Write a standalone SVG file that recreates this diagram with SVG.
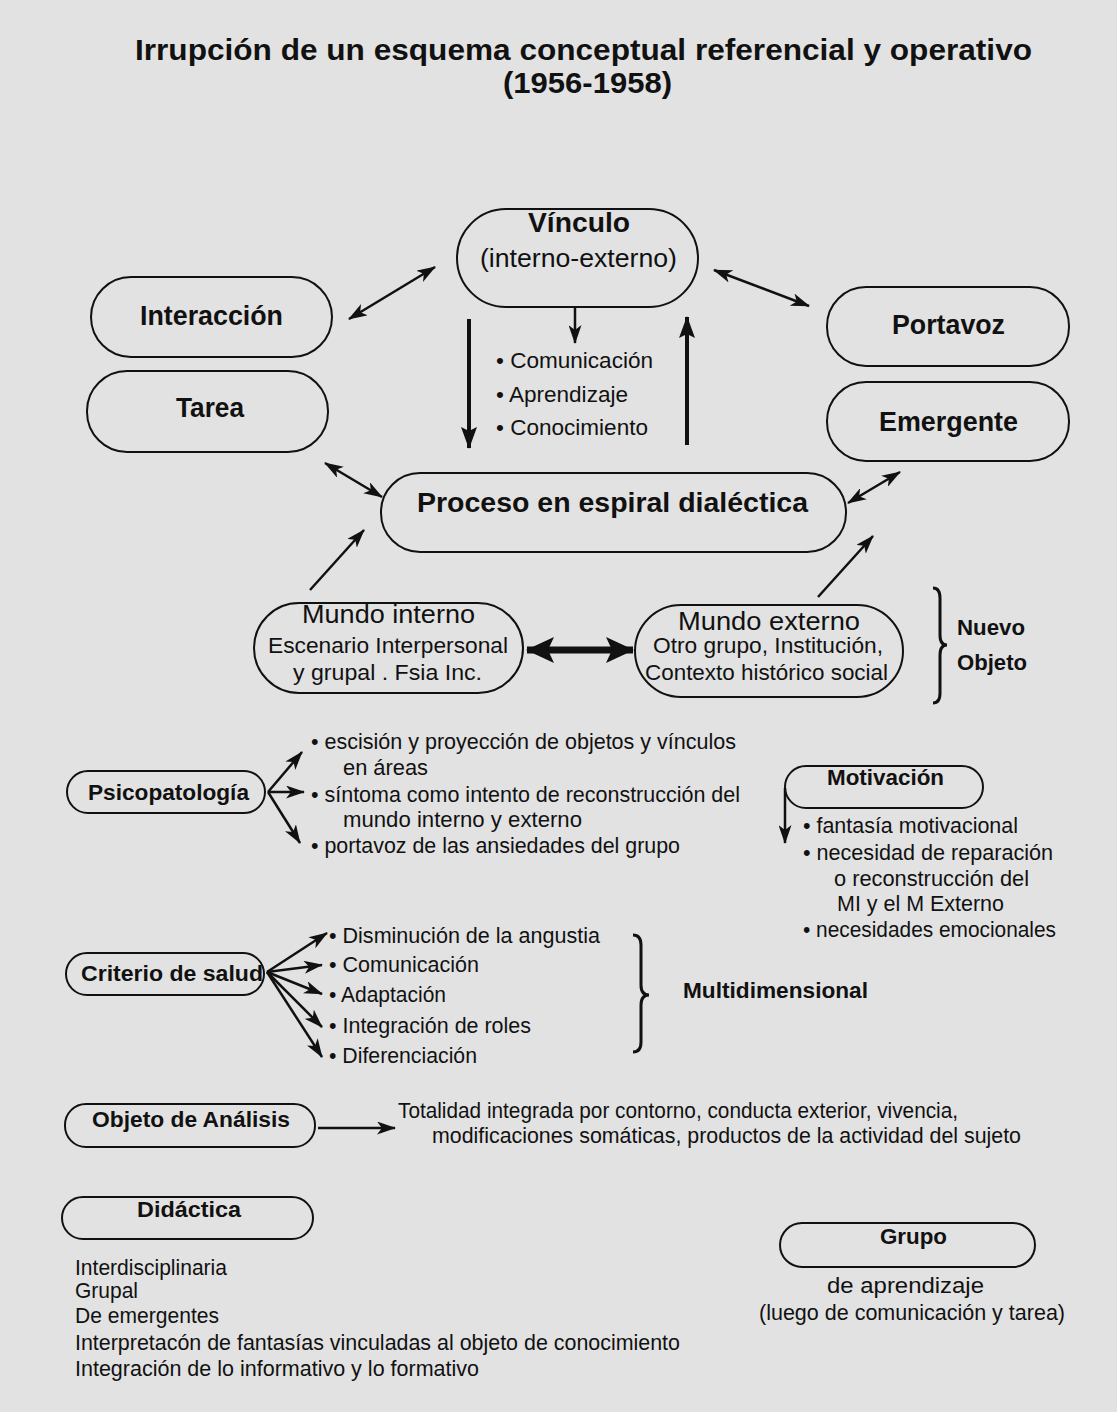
<svg xmlns="http://www.w3.org/2000/svg" width="1117" height="1412" viewBox="0 0 1117 1412">
<style>
.box{fill:none;stroke:#111;stroke-width:2}
.b{font-family:"Liberation Sans",Arial,sans-serif;font-weight:bold;fill:#111}
.t{font-family:"Liberation Sans",Arial,sans-serif;fill:#111}
.c{fill:none;stroke:#111;stroke-width:2.5}
.ck{fill:none;stroke:#111;stroke-width:4}
.br{fill:none;stroke:#111;stroke-width:3}
</style>
<defs>
<marker id="ah" markerUnits="userSpaceOnUse" markerWidth="19" markerHeight="13" refX="18" refY="6.5" orient="auto-start-reverse" viewBox="0 0 19 13">
<path d="M0,0 L19,6.5 L0,13 L5,6.5 z" fill="#111"/>
</marker>
<marker id="ahk" markerUnits="userSpaceOnUse" markerWidth="22" markerHeight="16" refX="21" refY="8" orient="auto-start-reverse" viewBox="0 0 22 16">
<path d="M0,0 L22,8 L0,16 L4,8 z" fill="#111"/>
</marker>
<marker id="ahb" markerUnits="userSpaceOnUse" markerWidth="28" markerHeight="26" refX="27" refY="13" orient="auto-start-reverse" viewBox="0 0 28 26">
<path d="M0,0 L28,13 L0,26 L6,13 z" fill="#111"/>
</marker>
</defs>
<rect x="0" y="0" width="1117" height="1412" fill="#e2e2e2"/>

<g id="title">
<text class="b" x="135" y="60" font-size="29" textLength="897" lengthAdjust="spacingAndGlyphs">Irrupción de un esquema conceptual referencial y operativo</text>
<text class="b" x="503" y="93" font-size="29" textLength="169" lengthAdjust="spacingAndGlyphs">(1956-1958)</text>
</g>

<g id="connectors">
<line class="c" x1="349" y1="319" x2="435" y2="267" marker-start="url(#ah)" marker-end="url(#ah)"/>
<line class="c" x1="714" y1="270" x2="809" y2="306" marker-start="url(#ah)" marker-end="url(#ah)"/>
<line class="c" x1="575" y1="308" x2="575" y2="343" marker-end="url(#ah)"/>
<line class="ck" x1="469" y1="319" x2="469" y2="448" marker-end="url(#ahk)"/>
<line class="ck" x1="687" y1="445" x2="687" y2="317" marker-end="url(#ahk)"/>
<line class="c" x1="325" y1="463" x2="382" y2="497" marker-start="url(#ah)" marker-end="url(#ah)"/>
<line class="c" x1="848" y1="503" x2="900" y2="472" marker-start="url(#ah)" marker-end="url(#ah)"/>
<line class="c" x1="310" y1="590" x2="364" y2="530" marker-end="url(#ah)"/>
<line class="c" x1="818" y1="597" x2="873" y2="536" marker-end="url(#ah)"/>
<line x1="527" y1="650" x2="633" y2="650" stroke="#111" stroke-width="7" marker-start="url(#ahb)" marker-end="url(#ahb)"/>
<line class="c" x1="268" y1="792" x2="302" y2="752" marker-end="url(#ah)"/>
<line class="c" x1="268" y1="792" x2="304" y2="792" marker-end="url(#ah)"/>
<line class="c" x1="268" y1="792" x2="300" y2="843" marker-end="url(#ah)"/>
<line class="c" x1="785" y1="788" x2="785" y2="843" marker-end="url(#ah)"/>
<line class="c" x1="267" y1="972" x2="327" y2="933" marker-end="url(#ah)"/>
<line class="c" x1="267" y1="972" x2="322" y2="965" marker-end="url(#ah)"/>
<line class="c" x1="267" y1="972" x2="322" y2="994" marker-end="url(#ah)"/>
<line class="c" x1="267" y1="972" x2="322" y2="1027" marker-end="url(#ah)"/>
<line class="c" x1="267" y1="972" x2="322" y2="1057" marker-end="url(#ah)"/>
<line class="c" x1="318" y1="1128" x2="395" y2="1128" marker-end="url(#ah)"/>
</g>

<g id="vinculo">
<rect class="box" x="457" y="209" width="241" height="98" rx="49"/>
<text class="b" x="528" y="232" font-size="27" textLength="102" lengthAdjust="spacingAndGlyphs">Vínculo</text>
<text class="t" x="480" y="267" font-size="25" textLength="197" lengthAdjust="spacingAndGlyphs">(interno-externo)</text>
</g>

<g id="vinculo-items">
<text class="t" x="496" y="368" font-size="22" textLength="157" lengthAdjust="spacingAndGlyphs">• Comunicación</text>
<text class="t" x="496" y="402" font-size="22" textLength="132" lengthAdjust="spacingAndGlyphs">• Aprendizaje</text>
<text class="t" x="496" y="435" font-size="22" textLength="152" lengthAdjust="spacingAndGlyphs">• Conocimiento</text>
</g>

<g id="interaccion">
<rect class="box" x="91" y="277" width="241" height="80" rx="40"/>
<text class="b" x="140" y="325" font-size="27" textLength="143" lengthAdjust="spacingAndGlyphs">Interacción</text>
</g>

<g id="tarea">
<rect class="box" x="87" y="371" width="241" height="81" rx="40"/>
<text class="b" x="176" y="417" font-size="27" textLength="68" lengthAdjust="spacingAndGlyphs">Tarea</text>
</g>

<g id="portavoz">
<rect class="box" x="827" y="287" width="242" height="79" rx="39"/>
<text class="b" x="892" y="334" font-size="27" textLength="113" lengthAdjust="spacingAndGlyphs">Portavoz</text>
</g>

<g id="emergente">
<rect class="box" x="827" y="382" width="242" height="79" rx="39"/>
<text class="b" x="879" y="431" font-size="27" textLength="139" lengthAdjust="spacingAndGlyphs">Emergente</text>
</g>

<g id="proceso">
<rect class="box" x="381" y="473" width="465" height="79" rx="39"/>
<text class="b" x="417" y="512" font-size="27" textLength="391" lengthAdjust="spacingAndGlyphs">Proceso en espiral dialéctica</text>
</g>

<g id="mundo-interno">
<rect class="box" x="254" y="603" width="269" height="90" rx="45"/>
<text class="t" x="302" y="623" font-size="25" textLength="173" lengthAdjust="spacingAndGlyphs">Mundo interno</text>
<text class="t" x="268" y="653" font-size="22" textLength="240" lengthAdjust="spacingAndGlyphs">Escenario Interpersonal</text>
<text class="t" x="293" y="680" font-size="22" textLength="189" lengthAdjust="spacingAndGlyphs">y grupal . Fsia Inc.</text>
</g>

<g id="mundo-externo">
<rect class="box" x="635" y="605" width="268" height="92" rx="46"/>
<text class="t" x="678" y="630" font-size="25" textLength="182" lengthAdjust="spacingAndGlyphs">Mundo externo</text>
<text class="t" x="653" y="653" font-size="22" textLength="230" lengthAdjust="spacingAndGlyphs">Otro grupo, Institución,</text>
<text class="t" x="645" y="680" font-size="22" textLength="243" lengthAdjust="spacingAndGlyphs">Contexto histórico social</text>
</g>

<g id="nuevo-objeto">
<path class="br" d="M933,588 Q940,588 940,598 L940,635 Q940,645 947,645 Q940,645 940,655 L940,693 Q940,703 933,703"/>
<text class="b" x="957" y="635" font-size="22" textLength="68" lengthAdjust="spacingAndGlyphs">Nuevo</text>
<text class="b" x="957" y="670" font-size="22" textLength="70" lengthAdjust="spacingAndGlyphs">Objeto</text>
</g>

<g id="psicopatologia">
<rect class="box" x="67" y="771" width="198" height="42" rx="21"/>
<text class="b" x="88" y="800" font-size="22" textLength="161" lengthAdjust="spacingAndGlyphs">Psicopatología</text>
</g>

<g id="psicopatologia-items">
<text class="t" x="311" y="749" font-size="22" textLength="425" lengthAdjust="spacingAndGlyphs">• escisión y proyección de objetos y vínculos</text>
<text class="t" x="343" y="775" font-size="22" textLength="85" lengthAdjust="spacingAndGlyphs">en áreas</text>
<text class="t" x="311" y="802" font-size="22" textLength="429" lengthAdjust="spacingAndGlyphs">• síntoma como intento de reconstrucción del</text>
<text class="t" x="343" y="827" font-size="22" textLength="239" lengthAdjust="spacingAndGlyphs">mundo interno y externo</text>
<text class="t" x="311" y="853" font-size="22" textLength="369" lengthAdjust="spacingAndGlyphs">• portavoz de las ansiedades del grupo</text>
</g>

<g id="motivacion">
<rect class="box" x="785" y="766" width="198" height="42" rx="21"/>
<text class="b" x="827" y="785" font-size="22" textLength="117" lengthAdjust="spacingAndGlyphs">Motivación</text>
</g>

<g id="motivacion-items">
<text class="t" x="803" y="833" font-size="22" textLength="215" lengthAdjust="spacingAndGlyphs">• fantasía motivacional</text>
<text class="t" x="803" y="860" font-size="22" textLength="250" lengthAdjust="spacingAndGlyphs">• necesidad de reparación</text>
<text class="t" x="834" y="886" font-size="22" textLength="195" lengthAdjust="spacingAndGlyphs">o reconstrucción del</text>
<text class="t" x="837" y="911" font-size="22" textLength="167" lengthAdjust="spacingAndGlyphs">MI y el M Externo</text>
<text class="t" x="803" y="937" font-size="22" textLength="253" lengthAdjust="spacingAndGlyphs">• necesidades emocionales</text>
</g>

<g id="criterio">
<rect class="box" x="66" y="953" width="198" height="42" rx="21"/>
<text class="b" x="81" y="981" font-size="22" textLength="182" lengthAdjust="spacingAndGlyphs">Criterio de salud</text>
</g>

<g id="criterio-items">
<text class="t" x="329" y="943" font-size="22" textLength="271" lengthAdjust="spacingAndGlyphs">• Disminución de la angustia</text>
<text class="t" x="329" y="972" font-size="22" textLength="150" lengthAdjust="spacingAndGlyphs">• Comunicación</text>
<text class="t" x="329" y="1002" font-size="22" textLength="117" lengthAdjust="spacingAndGlyphs">• Adaptación</text>
<text class="t" x="329" y="1033" font-size="22" textLength="202" lengthAdjust="spacingAndGlyphs">• Integración de roles</text>
<text class="t" x="329" y="1063" font-size="22" textLength="148" lengthAdjust="spacingAndGlyphs">• Diferenciación</text>
</g>

<g id="multidimensional">
<path class="br" d="M633,935 Q641,935 641,945 L641,985 Q641,995 649,995 Q641,995 641,1005 L641,1042 Q641,1052 633,1052"/>
<text class="b" x="683" y="998" font-size="22" textLength="185" lengthAdjust="spacingAndGlyphs">Multidimensional</text>
</g>

<g id="objeto-analisis">
<rect class="box" x="65" y="1104" width="250" height="43" rx="21"/>
<text class="b" x="92" y="1127" font-size="22" textLength="198" lengthAdjust="spacingAndGlyphs">Objeto de Análisis</text>
</g>

<g id="totalidad">
<text class="t" x="398" y="1118" font-size="22" textLength="560" lengthAdjust="spacingAndGlyphs">Totalidad integrada por contorno, conducta exterior, vivencia,</text>
<text class="t" x="432" y="1143" font-size="22" textLength="589" lengthAdjust="spacingAndGlyphs">modificaciones somáticas, productos de la actividad del sujeto</text>
</g>

<g id="didactica">
<rect class="box" x="62" y="1197" width="251" height="42" rx="21"/>
<text class="b" x="137" y="1217" font-size="22" textLength="104" lengthAdjust="spacingAndGlyphs">Didáctica</text>
</g>

<g id="didactica-items">
<text class="t" x="75" y="1275" font-size="22" textLength="152" lengthAdjust="spacingAndGlyphs">Interdisciplinaria</text>
<text class="t" x="75" y="1298" font-size="22" textLength="63" lengthAdjust="spacingAndGlyphs">Grupal</text>
<text class="t" x="75" y="1323" font-size="22" textLength="144" lengthAdjust="spacingAndGlyphs">De emergentes</text>
<text class="t" x="75" y="1350" font-size="22" textLength="605" lengthAdjust="spacingAndGlyphs">Interpretacón de fantasías vinculadas al objeto de conocimiento</text>
<text class="t" x="75" y="1376" font-size="22" textLength="404" lengthAdjust="spacingAndGlyphs">Integración de lo informativo y lo formativo</text>
</g>

<g id="grupo">
<rect class="box" x="780" y="1223" width="255" height="44" rx="22"/>
<text class="b" x="880" y="1244" font-size="22" textLength="67" lengthAdjust="spacingAndGlyphs">Grupo</text>
<text class="t" x="827" y="1293" font-size="22" textLength="157" lengthAdjust="spacingAndGlyphs">de aprendizaje</text>
<text class="t" x="759" y="1320" font-size="22" textLength="306" lengthAdjust="spacingAndGlyphs">(luego de comunicación y tarea)</text>
</g>
</svg>
